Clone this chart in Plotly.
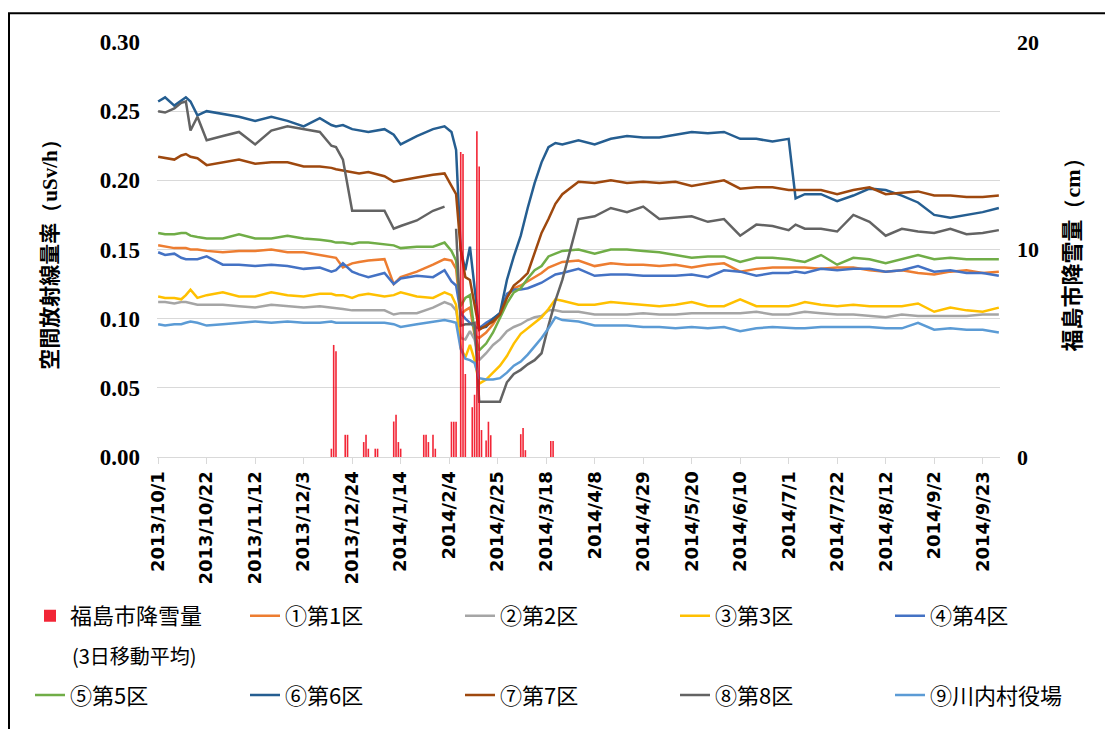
import plotly.graph_objects as go

# ---------------- data ----------------
dates = ["2013-10-01","2013-10-04","2013-10-08","2013-10-11","2013-10-13","2013-10-15","2013-10-18","2013-10-22","2013-10-29",
         "2013-11-05","2013-11-12","2013-11-19","2013-11-26",
         "2013-12-03","2013-12-10","2013-12-15","2013-12-17","2013-12-20","2013-12-24","2013-12-27","2013-12-31",
         "2014-01-07","2014-01-11","2014-01-14","2014-01-21","2014-01-28",
         "2014-02-02","2014-02-05","2014-02-07","2014-02-09","2014-02-11","2014-02-13","2014-02-15","2014-02-17","2014-02-20","2014-02-23","2014-02-26",
         "2014-03-01","2014-03-04","2014-03-07","2014-03-10","2014-03-13","2014-03-16","2014-03-19","2014-03-22","2014-03-25",
         "2014-04-01","2014-04-08","2014-04-15","2014-04-22","2014-04-29",
         "2014-05-06","2014-05-13","2014-05-20","2014-05-27",
         "2014-06-03","2014-06-10","2014-06-17","2014-06-24",
         "2014-07-01","2014-07-04","2014-07-08","2014-07-15","2014-07-22","2014-07-29",
         "2014-08-05","2014-08-12","2014-08-19","2014-08-26",
         "2014-09-02","2014-09-09","2014-09-16","2014-09-23","2014-09-30"]

s1 = [0.153,0.152,0.151,0.151,0.151,0.150,0.150,0.149,0.148,0.149,
      0.149,0.150,0.148,0.148,0.146,0.145,0.144,0.137,0.140,0.141,
      0.142,0.143,0.125,0.130,0.134,0.139,0.143,0.142,0.136,0.103,
      0.106,0.108,0.088,0.086,0.090,0.096,0.104,0.116,0.122,0.124,
      0.127,0.130,0.133,0.137,0.139,0.141,0.142,0.138,0.140,0.139,
      0.139,0.138,0.139,0.137,0.139,0.140,0.134,0.136,0.137,0.137,
      0.137,0.137,0.136,0.137,0.137,0.135,0.134,0.135,0.133,0.132,
      0.134,0.135,0.133,0.134]
s2 = [0.112,0.112,0.111,0.112,0.112,0.111,0.110,0.110,0.110,0.109,
      0.108,0.110,0.109,0.108,0.109,0.108,0.108,0.107,0.106,0.106,
      0.106,0.106,0.103,0.104,0.104,0.108,0.112,0.110,0.106,0.086,
      0.085,0.091,0.085,0.070,0.075,0.081,0.085,0.091,0.094,0.096,
      0.099,0.101,0.102,0.106,0.106,0.105,0.105,0.103,0.103,0.103,
      0.104,0.103,0.103,0.104,0.104,0.104,0.104,0.105,0.103,0.103,
      0.104,0.105,0.104,0.103,0.103,0.102,0.101,0.103,0.102,0.102,
      0.102,0.102,0.103,0.103]
s3 = [0.116,0.115,0.115,0.114,0.117,0.121,0.115,0.117,0.119,0.116,
      0.116,0.119,0.117,0.116,0.118,0.118,0.117,0.117,0.115,0.117,
      0.118,0.116,0.117,0.119,0.116,0.115,0.119,0.117,0.110,0.079,
      0.072,0.081,0.070,0.053,0.056,0.061,0.066,0.073,0.082,0.089,
      0.093,0.097,0.101,0.107,0.114,0.113,0.110,0.110,0.112,0.111,
      0.110,0.109,0.110,0.112,0.109,0.109,0.114,0.109,0.109,0.109,
      0.110,0.112,0.110,0.109,0.110,0.109,0.109,0.109,0.111,0.105,
      0.108,0.106,0.105,0.108]
s4 = [0.148,0.146,0.147,0.144,0.143,0.143,0.143,0.145,0.139,0.139,
      0.138,0.139,0.138,0.136,0.137,0.134,0.135,0.140,0.134,0.132,
      0.130,0.133,0.125,0.129,0.131,0.130,0.135,0.127,0.124,0.104,
      0.100,0.097,0.094,0.093,0.097,0.100,0.104,0.118,0.121,0.121,
      0.122,0.124,0.126,0.129,0.132,0.133,0.136,0.131,0.132,0.132,
      0.131,0.131,0.131,0.132,0.130,0.135,0.134,0.131,0.133,0.133,
      0.134,0.133,0.136,0.135,0.136,0.136,0.134,0.135,0.138,0.134,
      0.135,0.133,0.133,0.131]
s5 = [0.162,0.161,0.161,0.162,0.162,0.160,0.159,0.158,0.158,0.161,
      0.158,0.158,0.160,0.158,0.157,0.156,0.155,0.155,0.154,0.155,
      0.155,0.154,0.153,0.151,0.152,0.152,0.155,0.149,0.142,0.109,
      0.115,0.117,0.090,0.077,0.082,0.090,0.100,0.111,0.119,0.122,
      0.129,0.135,0.138,0.145,0.147,0.149,0.150,0.147,0.150,0.150,
      0.149,0.148,0.146,0.144,0.145,0.145,0.141,0.144,0.144,0.143,
      0.142,0.141,0.146,0.139,0.144,0.143,0.140,0.143,0.146,0.143,
      0.144,0.143,0.143,0.143]
s6 = [0.257,0.260,0.254,0.258,0.260,0.257,0.247,0.250,0.248,0.246,
      0.243,0.246,0.243,0.239,0.245,0.240,0.239,0.240,0.237,0.236,
      0.235,0.237,0.233,0.226,0.232,0.237,0.239,0.235,0.222,0.150,
      0.135,0.152,0.120,0.093,0.094,0.100,0.104,0.128,0.145,0.160,
      0.180,0.198,0.213,0.224,0.227,0.226,0.229,0.226,0.230,0.232,
      0.231,0.231,0.233,0.235,0.234,0.235,0.230,0.230,0.228,0.230,
      0.187,0.190,0.190,0.185,0.189,0.194,0.193,0.189,0.184,0.175,
      0.173,0.175,0.177,0.180]
s7 = [0.217,0.216,0.215,0.218,0.219,0.217,0.216,0.211,0.213,0.215,
      0.212,0.213,0.213,0.210,0.210,0.209,0.208,0.207,0.206,0.205,
      0.206,0.203,0.199,0.200,0.202,0.204,0.205,0.196,0.190,0.150,
      0.130,0.128,0.110,0.092,0.095,0.098,0.103,0.115,0.124,0.128,
      0.133,0.148,0.162,0.172,0.183,0.190,0.199,0.198,0.200,0.198,
      0.199,0.198,0.199,0.196,0.198,0.200,0.194,0.195,0.195,0.193,
      0.193,0.193,0.193,0.190,0.193,0.195,0.190,0.191,0.192,0.189,
      0.189,0.188,0.188,0.189]
s8 = [0.250,0.249,0.252,0.256,0.257,0.236,0.246,0.229,0.232,0.235,
      0.226,0.236,0.239,0.237,0.235,0.225,0.224,0.215,0.178,0.178,
      0.178,0.178,0.165,0.167,0.171,0.178,0.181,None,0.165,0.095,
      0.096,0.096,0.097,0.040,0.040,0.040,0.040,0.054,0.060,0.063,
      0.067,0.070,0.075,0.095,0.113,0.128,0.172,0.174,0.180,0.177,
      0.181,0.172,0.173,0.174,0.170,0.172,0.160,0.168,0.167,0.164,
      0.168,0.165,0.165,0.163,0.175,0.170,0.160,0.165,0.163,0.162,
      0.165,0.161,0.162,0.164]
s9 = [0.096,0.095,0.096,0.096,0.097,0.098,0.097,0.095,0.096,0.097,
      0.098,0.097,0.098,0.097,0.097,0.098,0.097,0.097,0.097,0.097,
      0.097,0.097,0.096,0.094,0.096,0.098,0.099,0.098,0.097,0.078,
      0.071,0.070,0.068,0.057,0.056,0.056,0.057,0.061,0.066,0.069,
      0.074,0.080,0.086,0.093,0.101,0.099,0.098,0.095,0.095,0.095,
      0.094,0.094,0.093,0.094,0.093,0.094,0.091,0.093,0.094,0.093,
      0.093,0.093,0.094,0.094,0.094,0.094,0.093,0.093,0.097,0.092,
      0.093,0.092,0.092,0.090]

snow_dates = ["2013-12-15","2013-12-16","2013-12-17","2013-12-21","2013-12-22","2013-12-29","2013-12-30","2013-12-31",
              "2014-01-03","2014-01-04","2014-01-11","2014-01-12","2014-01-13","2014-01-14",
              "2014-01-24","2014-01-25","2014-01-26","2014-01-28","2014-01-29",
              "2014-02-05","2014-02-06","2014-02-07","2014-02-09","2014-02-10","2014-02-11",
              "2014-02-14","2014-02-15","2014-02-16","2014-02-17","2014-02-18","2014-02-20","2014-02-21","2014-02-22",
              "2014-03-07","2014-03-08","2014-03-09","2014-03-20","2014-03-21"]
snow_cm = [0.4,5.4,5.1,1.07,1.07,0.72,1.07,0.4,
           0.4,0.4,1.71,2.04,0.72,0.4,
           1.07,1.07,0.72,1.07,0.4,
           1.7,1.7,1.7,14.7,14.6,4.0,
           2.4,3.0,15.7,14.0,1.3,0.8,1.7,1.05,
           1.1,1.4,0.33,0.77,0.77]

tick_dates = ["2013-10-01","2013-10-22","2013-11-12","2013-12-03","2013-12-24","2014-01-14","2014-02-04","2014-02-25",
              "2014-03-18","2014-04-08","2014-04-29","2014-05-20","2014-06-10","2014-07-01","2014-07-22","2014-08-12",
              "2014-09-02","2014-09-23"]
tick_labels = ["2013/10/1","2013/10/22","2013/11/12","2013/12/3","2013/12/24","2014/1/14","2014/2/4","2014/2/25",
               "2014/3/18","2014/4/8","2014/4/29","2014/5/20","2014/6/10","2014/7/1","2014/7/22","2014/8/12",
               "2014/9/2","2014/9/23"]

snow_name = "福島市降雪量"
snow_note = "(3日移動平均)"
line_names = ["①第1区","②第2区","③第3区","④第4区","⑤第5区","⑥第6区","⑦第7区","⑧第8区","⑨川内村役場"]
line_values = [s1, s2, s3, s4, s5, s6, s7, s8, s9]
line_colors = ["#ED7D31","#A5A5A5","#FFC000","#4472C4","#70AD47","#255E91","#9E480E","#636363","#5B9BD5"]

# ---------------- layout geometry (screen pixels; page body adds an 8px offset) ----------------
OFF = 8
W, H = 1113 - OFF, 729 - OFF
L, R, T, B = 157 - OFF, 1000 - OFF, 42 - OFF, 460 - OFF
PW, PH = R - L, B - T

def px(xs):
    return (xs - OFF - L) / PW

def py(ys):
    return (B - (ys - OFF)) / PH

# legend anchor (screen: text start x - 40, centre y) for snow + 9 lines
legend_xy = [(30, 620), (245, 620), (460, 620), (675, 620), (890, 620),
             (30, 700), (245, 700), (460, 700), (675, 700), (890, 700)]

CJK = "Noto Sans CJK JP"
fig = go.Figure()

for i, (name, vals, col) in enumerate(zip(line_names, line_values, line_colors)):
    fig.add_trace(go.Scatter(
        x=dates, y=vals, name=name, mode="lines",
        line=dict(color=col, width=2.5), connectgaps=False,
        legend="legend" + str(i + 2)))

fig.add_trace(go.Bar(
    x=snow_dates, y=snow_cm, name=snow_name, yaxis="y2",
    marker=dict(color="rgba(240,0,20,0.85)", line=dict(width=0)),
    width=0.7 * 86400000, legend="legend"))

legend_font = dict(family=CJK, size=22, color="#000000")
legends = {}
for k, (lx, ly) in enumerate(legend_xy):
    key = "legend" if k == 0 else "legend" + str(k + 1)
    legends[key] = dict(x=px(lx), y=py(ly), xanchor="left", yanchor="middle",
                        orientation="v", bgcolor="rgba(0,0,0,0)", borderwidth=0,
                        font=legend_font, valign="middle")

fig.update_layout(
    width=W, height=H, autosize=False,
    margin=dict(l=L, r=W - R, t=T, b=H - B, pad=0),
    paper_bgcolor="white", plot_bgcolor="white",
    showlegend=True,
    barmode="overlay",
    xaxis=dict(
        type="date", range=["2013-09-30 12:00", "2014-09-30 12:00"],
        tickmode="array", tickvals=tick_dates, ticktext=tick_labels,
        tickangle=-90, tickfont=dict(family="DejaVu Sans", size=18, color="#000000", weight="bold"),
        ticks="outside", ticklen=6, tickcolor="#D9D9D9", tickwidth=1,
        showline=True, linecolor="#D9D9D9", linewidth=1,
        showgrid=False, zeroline=False, automargin=False),
    yaxis=dict(
        range=[0, 0.30], dtick=0.05, tickformat=".2f",
        tickfont=dict(family="Liberation Serif", size=23, color="#000000", weight="bold"),
        showgrid=True, gridcolor="#D9D9D9", gridwidth=1,
        zeroline=False, showline=False, ticks="", ticklabelstandoff=16,
        title=dict(text="空間放射線量率<span style='font-family:Liberation Serif'>（uSv/h）</span>",
                   font=dict(family=CJK, size=21, color="#000000", weight="bold"), standoff=36),
        automargin=False),
    yaxis2=dict(
        range=[0, 20], dtick=10, overlaying="y", side="right",
        tickfont=dict(family="Liberation Serif", size=22, color="#000000", weight="bold"),
        showgrid=False, zeroline=False, showline=False, ticks="", ticklabelstandoff=16,
        title=dict(text="福島市降雪量<span style='font-family:Liberation Serif'>（cm）</span>",
                   font=dict(family=CJK, size=22, color="#000000", weight="bold"), standoff=26),
        automargin=False),
    annotations=[
        dict(text=snow_note, xref="paper", yref="paper", x=px(70), y=py(660),
             xanchor="left", yanchor="middle", showarrow=False,
             font=dict(family=CJK, size=20, color="#000000")),
    ],
    shapes=[
        dict(type="line", xref="paper", yref="paper", x0=px(8), x1=px(1120), y0=py(13), y1=py(13),
             line=dict(color="#000000", width=2)),
        dict(type="line", xref="paper", yref="paper", x0=px(9), x1=px(9), y0=py(13), y1=py(740),
             line=dict(color="#000000", width=2)),
    ],
    **legends,
)

fig.write_html("out.html")
